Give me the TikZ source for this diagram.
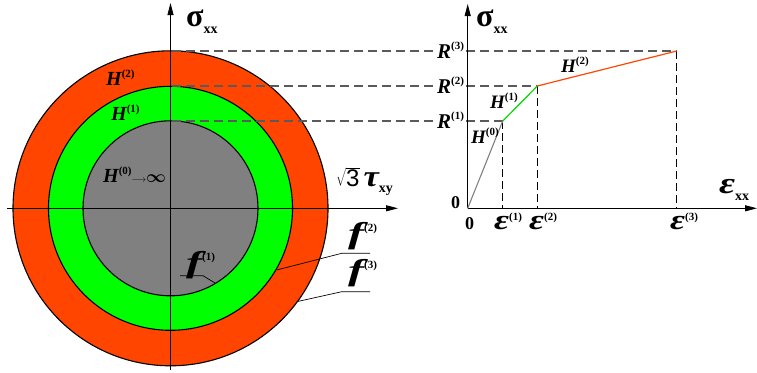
\documentclass[tikz,border=0pt]{standalone}
\usepackage{fontspec}
\setmainfont{Liberation Serif}
\setsansfont{Liberation Sans}
\usetikzlibrary{arrows.meta}
\definecolor{ored}{RGB}{255,69,0}
\definecolor{lgreen}{RGB}{0,255,0}
\definecolor{mgray}{RGB}{128,128,128}
\definecolor{dgray}{RGB}{90,90,90}
% letter with bracketed superscript
\newcommand{\suplab}[4]{{\fontsize{#2}{#2}\selectfont\bfseries\itshape #1}\raisebox{#4}{\fontsize{11}{11}\selectfont\bfseries (#3)}}
\newcommand{\epslab}[1]{{\fontsize{28}{28}\selectfont\bfseries\itshape\scalebox{1.3}[1]{ε}}\raisebox{9pt}{\fontsize{11}{11}\selectfont\bfseries (#1)}}
\newcommand{\greeksub}[3]{{\fontsize{#2}{#2}\selectfont\bfseries #1}\raisebox{-7pt}{\fontsize{14}{14}\selectfont\bfseries #3}}
\newcommand{\flab}[1]{{\fontsize{30}{30}\selectfont\bfseries\itshape\scalebox{1.6}[1]{f}}\raisebox{12pt}{\fontsize{11}{11}\selectfont\bfseries (#1)}}
\begin{document}
\begin{tikzpicture}[x=1pt,y=-1pt,
  lbl/.style={inner sep=0pt,anchor=base west},
  rim/.style={draw=black,line width=1.1pt},
  axis/.style={line width=0.9pt,-{Triangle[length=12pt,width=6pt]}},
  hdash/.style={draw=dgray,line width=1.1pt,dash pattern=on 9pt off 5pt},
  vdash/.style={draw=black,line width=0.8pt,dash pattern=on 8pt off 4pt},
  leader/.style={draw=black,line width=0.7pt}]
\useasboundingbox (0,0) rectangle (757,372);
% ---- left: yield surfaces
\coordinate (c) at (170.5,208.3);
\fill[ored] (c) circle (157.5);
\fill[lgreen] (c) circle (122);
\fill[mgray] (c) circle (87.5);
\draw[rim] (c) circle (157.5);
\draw[rim] (c) circle (122);
\draw[rim] (c) circle (87.5);
\coordinate (ly0) at (170.5,370);
\coordinate (ly1) at (170.5,3);
\coordinate (lx0) at (7,208.3);
\coordinate (lx1) at (398,208.3);
\draw[axis] (ly0) -- (ly1);
\draw[axis] (lx0) -- (lx1);
% ---- right: stress-strain
\coordinate (o) at (467.7,208.3);
\coordinate (ry1) at (467.7,4);
\coordinate (rx1) at (757,208.3);
\coordinate (p1) at (502.7,121);
\coordinate (p2) at (537.3,86);
\coordinate (p3) at (676.7,51);
\coordinate (e1) at (502.7,208.3);
\coordinate (e2) at (537.3,208.3);
\coordinate (e3) at (676.7,208.3);
\coordinate (t1) at (172,121);
\coordinate (t2) at (172,86);
\coordinate (t3) at (172,51);
\draw[hdash] (t3) -- (p3);
\draw[hdash] (t2) -- (p2);
\draw[hdash] (t1) -- (p1);
\draw[vdash] (p1) -- (e1);
\draw[vdash] (p2) -- (e2);
\draw[vdash] (p3) -- (e3);
\draw[axis] (o) -- (ry1);
\draw[axis] (o) -- (rx1);
\draw[mgray,line width=1.1pt] (o) -- (p1);
\draw[lgreen!85!black,line width=1.2pt] (p1) -- (p2);
\draw[ored,line width=1.2pt] (p2) -- (p3);
% ---- labels, left
\node[lbl] (sigL) at (186,26) {\greeksub{σ}{32}{xx}};
\node[lbl] (tau) at (336,186) {$\sqrt{\mbox{\fontsize{24}{24}\selectfont\sffamily 3}}$\hspace{4pt}{\fontsize{30}{30}\selectfont\bfseries\itshape\scalebox{1.15}[1]{τ}}\raisebox{-6pt}{\fontsize{14}{14}\selectfont\bfseries xy}};
\node[lbl] (H2L) at (106,85) {\suplab{H}{20}{2}{8pt}};
\node[lbl] (H1L) at (111,120) {\suplab{H}{20}{1}{8pt}};
\node[lbl] (H0L) at (103,182) {\suplab{H}{20}{0}{8pt}\raisebox{0pt}{\scalebox{0.9}[1]{$\longrightarrow$}}{\fontsize{16}{16}\selectfont\boldmath$\infty$}};
\node[lbl] (f1) at (186,272) {\flab{1}};
\node[lbl] (f2) at (348,243) {\flab{2}};
\node[lbl] (f3) at (348,280) {\flab{3}};
\coordinate (u1a) at (180,275.7);
\coordinate (u1b) at (203,275.7);
\coordinate (q1) at (215,283);
\draw[leader] (u1a) -- (u1b) -- (q1);
\coordinate (u2a) at (370,253.3);
\coordinate (u2b) at (341.7,253.3);
\coordinate (q2) at (276.7,270);
\draw[leader] (u2a) -- (u2b) -- (q2);
\coordinate (u3a) at (370,291.7);
\coordinate (u3b) at (341.7,291.7);
\coordinate (q3) at (296.7,301.7);
\draw[leader] (u3a) -- (u3b) -- (q3);
% ---- labels, right
\node[lbl] (sigR) at (476,26) {\greeksub{σ}{32}{xx}};
\node[lbl] (epsR) at (719,193) {\greeksub{\itshape\scalebox{1.3}[1]{ε}}{30}{xx}};
\node[lbl] (zy) at (451,208) {\fontsize{18}{18}\selectfont\bfseries 0};
\node[lbl] (zx) at (465,229) {\fontsize{18}{18}\selectfont\bfseries 0};
\node[lbl] (eps1) at (494,229) {\epslab{1}};
\node[lbl] (eps2) at (529,229) {\epslab{2}};
\node[lbl] (eps3) at (670,229) {\epslab{3}};
\node[lbl,fill=white,inner sep=1pt] (R3) at (436,58) {\suplab{R}{21}{3}{9pt}};
\node[lbl,fill=white,inner sep=1pt] (R2) at (436,93) {\suplab{R}{21}{2}{9pt}};
\node[lbl,fill=white,inner sep=1pt] (R1) at (436,128) {\suplab{R}{21}{1}{9pt}};
\node[lbl] (H2R) at (561,72) {\suplab{H}{19}{2}{8pt}};
\node[lbl] (H1R) at (490,108) {\suplab{H}{19}{1}{8pt}};
\node[lbl] (H0R) at (471,143) {\suplab{H}{19}{0}{8pt}};
\end{tikzpicture}
\end{document}
